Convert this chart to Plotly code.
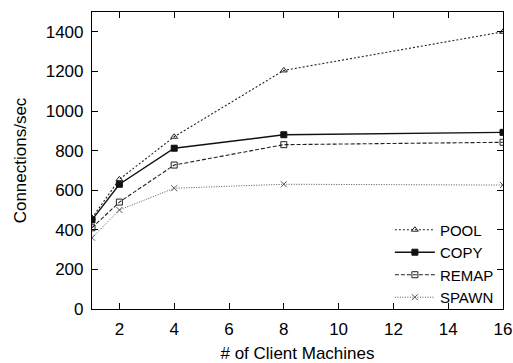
import plotly.graph_objects as go

clients = [1, 2, 4, 8, 16]
pool = [460, 655, 870, 1205, 1400]
copy = [450, 630, 812, 880, 892]
remap = [410, 540, 727, 830, 842]
spawn = [360, 500, 610, 630, 626]

x_ticks = [2, 4, 6, 8, 10, 12, 14, 16]
y_ticks = [0, 200, 400, 600, 800, 1000, 1200, 1400]

series = [
    ("POOL", pool, "2px,2px", "triangle-up-open", "#222222", 1.1),
    ("COPY", copy, "solid", "square", "#111111", 1.4),
    ("REMAP", remap, "4px,2px", "square-open", "#222222", 1.1),
    ("SPAWN", spawn, "1px,1.5px", "x-thin-open", "#555555", 1),
]

fig = go.Figure()
for name, vals, dash, sym, col, w in series:
    fig.add_trace(go.Scatter(
        x=clients, y=vals, name=name, mode="lines+markers",
        line=dict(color=col, dash=dash, width=w),
        marker=dict(symbol=sym, size=6, color=col, line=dict(color=col, width=1)),
    ))

fam = "Liberation Sans, Arial, sans-serif"
axis_common = dict(
    showline=True, linecolor="black", linewidth=1.2, mirror="ticks",
    ticks="inside", ticklen=6, tickcolor="black", showgrid=False, zeroline=False,
    tickfont=dict(family=fam, size=17, color="black"), automargin=False,
)

fig.update_layout(
    width=513, height=363,
    margin=dict(l=92, r=10, t=12, b=54),
    plot_bgcolor="white", paper_bgcolor="white",
    font=dict(family=fam, size=17, color="black"),
    xaxis=dict(range=[1, 16], tickvals=x_ticks, ticklabelstandoff=4,
               title=dict(text="# of Client Machines", standoff=11,
                          font=dict(family=fam, size=17)), **axis_common),
    yaxis=dict(range=[0, 1500], tickvals=y_ticks, ticklabelstandoff=4,
               title=dict(text="Connections/sec", standoff=14,
                          font=dict(family=fam, size=17)), **axis_common),
    legend=dict(x=0.99, y=-0.015, xanchor="right", yanchor="bottom",
                bgcolor="rgba(0,0,0,0)", font=dict(family=fam, size=15),
                tracegroupgap=0, itemwidth=40),
    showlegend=True,
)

fig.write_html("out.html")
